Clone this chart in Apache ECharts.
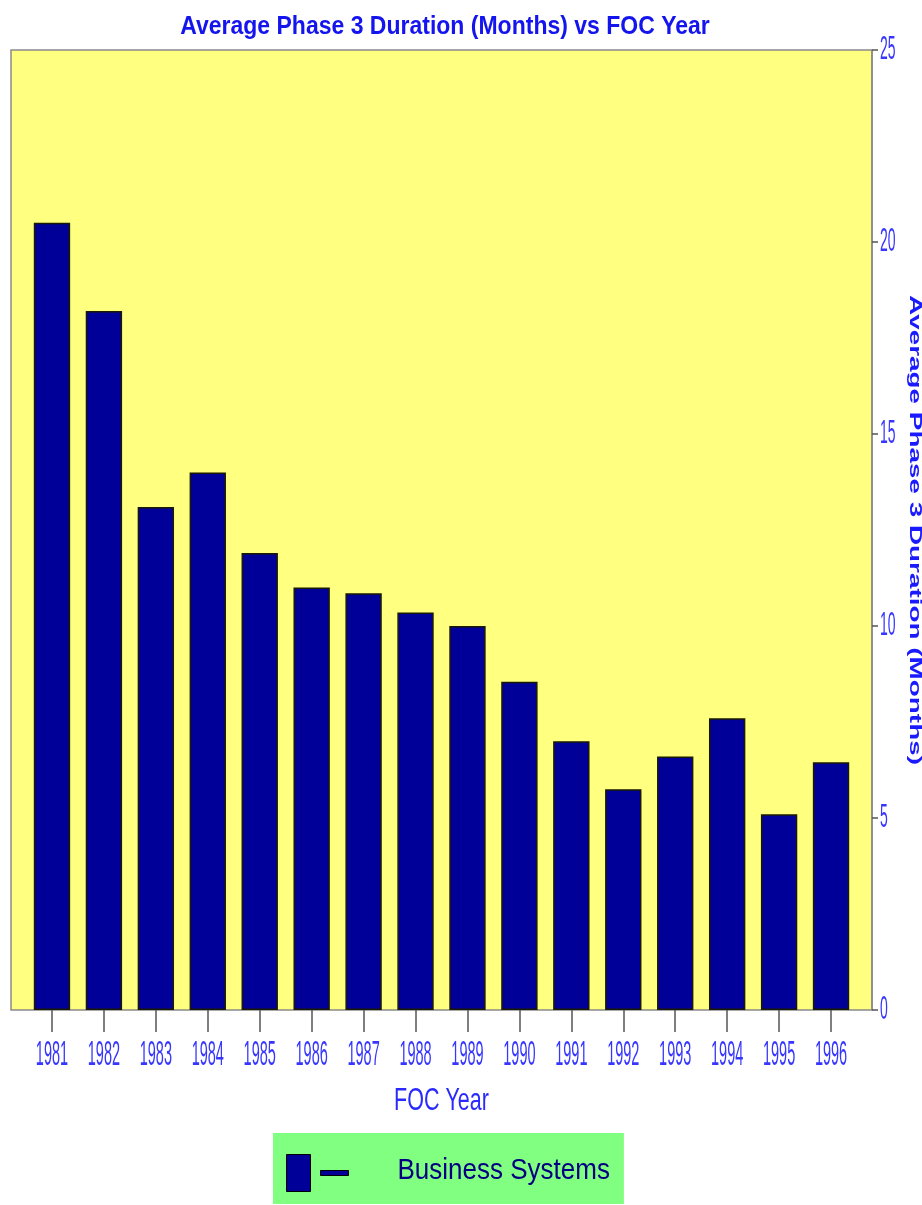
<!DOCTYPE html>
<html>
<head>
<meta charset="utf-8">
<title>Average Phase 3 Duration (Months) vs FOC Year</title>
<script src="https://cdn.jsdelivr.net/npm/echarts@6/dist/echarts.min.js"></script>
<style>
  html, body { margin: 0; padding: 0; background: #ffffff; }
  #chart { width: 922px; height: 1205px; }
</style>
</head>
<body>
<div id="chart"></div>
<script>
// FOC years and the average phase 3 duration (months) for each
const years = ['1981', '1982', '1983', '1984', '1985', '1986', '1987', '1988',
               '1989', '1990', '1991', '1992', '1993', '1994', '1995', '1996'];
const durations = [20.5, 18.2, 13.1, 14.0, 11.9, 11.0, 10.85, 10.35,
                   10.0, 8.55, 7.0, 5.75, 6.6, 7.6, 5.1, 6.45];
const seriesName = 'Business Systems';
const yTicks = [0, 5, 10, 15, 20, 25];

const titleText = 'Average Phase 3 Duration (Months) vs FOC Year';
const xName = 'FOC Year';
const yName = 'Average Phase 3 Duration (Months)';

const font = '"Liberation Sans", Arial, Helvetica, sans-serif';

const chart = echarts.init(document.getElementById('chart'), null, { renderer: 'canvas' });

chart.setOption({
  backgroundColor: '#ffffff',
  animation: false,
  title: {
    text: titleText,
    left: 440,
    top: 8,
    textAlign: 'center',
    textStyle: { color: '#1414ee', fontFamily: font, fontWeight: 'bold', fontSize: 23 }
  },
  legend: {
    data: [seriesName],
    left: 273,
    top: 1133,
    padding: [21, 14, 12, 13],
    backgroundColor: '#80ff80',
    itemWidth: 62,
    itemHeight: 37,
    icon: 'path://M0,0 L24,0 L24,37 L0,37 Z M34,16 L62,16 L62,21 L34,21 Z',
    itemStyle: { color: '#000099', borderColor: '#000000', borderWidth: 1 },
    textStyle: {
      color: '#000080', fontFamily: font, fontSize: 26,
      padding: [0, 0, 0, 44]
    }
  },
  grid: [
    // plot frame with the yellow backdrop
    { left: 11, right: 50, top: 50, bottom: 195, show: true, outerBoundsMode: 'none',
      backgroundColor: '#ffff80', borderColor: '#8a8a8a', borderWidth: 1.5 },
    // data area, inset so the category band sits inside the frame
    { left: 26, right: 65, top: 50, bottom: 195, outerBoundsMode: 'none' }
  ],
  xAxis: {
    gridIndex: 1,
    type: 'category',
    data: years,
    axisLine: { show: false },
    axisTick: { show: true, alignWithLabel: true, length: 22,
                lineStyle: { color: '#555555', width: 1.5 } },
    axisLabel: { color: '#3636ff', fontFamily: font, fontSize: 14.5, margin: 27, interval: 0 },
    name: xName,
    nameLocation: 'middle',
    nameGap: 75,
    nameTextStyle: { color: '#2a2aff', fontFamily: font, fontSize: 21.5 }
  },
  yAxis: {
    gridIndex: 1,
    type: 'value',
    position: 'right',
    offset: 15,
    min: yTicks[0],
    max: yTicks[yTicks.length - 1],
    interval: 5,
    splitLine: { show: false },
    axisLine: { show: true, lineStyle: { color: '#8a8a8a', width: 1.5 } },
    axisTick: { show: true, length: 6, lineStyle: { color: '#555555', width: 1.5 } },
    axisLabel: { color: '#3636ff', fontFamily: font, fontSize: 14, margin: 8 },
    name: yName,
    nameLocation: 'middle',
    nameRotate: -90,
    nameGap: 28,
    nameTextStyle: { color: '#1a1aff', fontFamily: font, fontWeight: 'bold', fontSize: 17 }
  },
  series: [{
    name: seriesName,
    type: 'bar',
    xAxisIndex: 0,
    yAxisIndex: 0,
    data: durations,
    barWidth: '70%',
    itemStyle: { color: '#000099', borderColor: '#1a1a00', borderWidth: 1.5 }
  }]
});

// The lettering of this chart is drawn tall and narrow: stretch each text
// element about its own anchor along its reading height (or along its length
// for the rotated axis name). Text glyphs live in tspan children of a Text host.
const tickTexts = new Set(years.concat(yTicks.map(String)));
const zr = chart.getZr();
const done = new Set();
zr.storage.getDisplayList(true).forEach(function (el) {
  const host = el.type === 'tspan' ? el.parent : (el.type === 'text' ? el : null);
  if (!host || !host.style || done.has(host)) return;
  const t = host.style.text;
  if (tickTexts.has(t)) {
    host.scaleY = 2.4;
  } else if (t === titleText) {
    host.scaleY = 1.15;
  } else if (t === xName) {
    host.scaleY = 1.5;
  } else if (t === yName) {
    host.scaleX = 1.64;
  } else if (t === seriesName) {
    host.scaleY = 1.13;
    host.y -= 5; // sit the stretched legend label level with the swatch
  } else {
    return;
  }
  done.add(host);
  host.markRedraw();
});
zr.refreshImmediately();
</script>
</body>
</html>
